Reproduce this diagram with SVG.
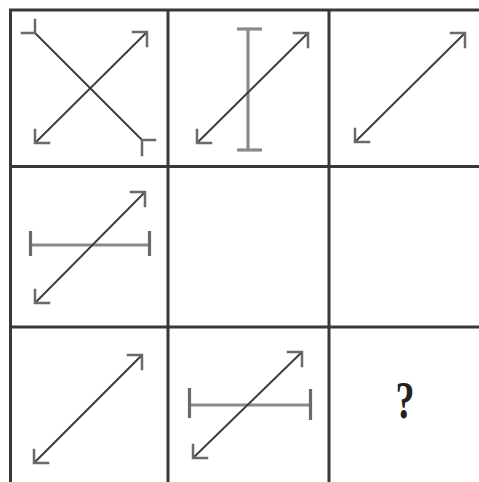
<svg xmlns="http://www.w3.org/2000/svg" width="479" height="482" viewBox="0 0 479 482">
<style>
.grid{stroke:#383838;stroke-width:3;fill:none}
.ln{stroke:#3c3c3c;stroke-width:1.9;fill:none}
.hd{stroke:#6a6a6a;stroke-width:2.5;fill:none;stroke-linecap:square}
.bar{stroke:#8a8a8a;stroke-width:3.2;fill:none}
.cap{stroke:#6a6a6a;stroke-width:3.2;fill:none}
</style>
<rect width="479" height="482" fill="#ffffff"/>
<g id="grid">
<line class="grid" x1="10.5" y1="10" x2="10.5" y2="482"/>
<line class="grid" x1="168" y1="10" x2="168" y2="482"/>
<line class="grid" x1="329" y1="10" x2="329" y2="482"/>
<line class="grid" x1="9" y1="10" x2="479" y2="10"/>
<line class="grid" x1="9" y1="166.5" x2="479" y2="166.5"/>
<line class="grid" x1="9" y1="327" x2="479" y2="327"/>
</g>
<g id="cell-1-1">
<line class="ln" x1="35" y1="33" x2="142" y2="140"/>
<polyline class="hd" points="22,33 35,33 35,20"/>
<polyline class="hd" points="155,140 142,140 142,155"/>
<line class="ln" x1="35" y1="143" x2="147" y2="32"/>
<polyline class="hd" points="35,130 35,143 49,143"/>
<polyline class="hd" points="133,32 147,32 147,46"/>
</g>
<g id="cell-1-2">
<line class="bar" x1="248" y1="29" x2="248" y2="150"/>
<line class="bar" x1="237" y1="29" x2="262" y2="29"/>
<line class="bar" x1="237" y1="150" x2="262" y2="150"/>
<line class="ln" x1="197" y1="143" x2="308" y2="33"/>
<polyline class="hd" points="197,130 197,143 211,143"/>
<polyline class="hd" points="294,33 308,33 308,47"/>
</g>
<g id="cell-1-3">
<line class="ln" x1="355" y1="142" x2="465" y2="33"/>
<polyline class="hd" points="355,129 355,142 369,142"/>
<polyline class="hd" points="451,33 465,33 465,47"/>
</g>
<g id="cell-2-1">
<line class="bar" x1="30.5" y1="245" x2="149.5" y2="245"/>
<line class="cap" x1="30.5" y1="231" x2="30.5" y2="256"/>
<line class="cap" x1="149.5" y1="231" x2="149.5" y2="256"/>
<line class="ln" x1="35" y1="303" x2="145" y2="192"/>
<polyline class="hd" points="35,290 35,303 49,303"/>
<polyline class="hd" points="131,192 145,192 145,206"/>
</g>
<g id="cell-2-2"></g>
<g id="cell-2-3"></g>
<g id="cell-3-1">
<line class="ln" x1="34" y1="463" x2="142" y2="355"/>
<polyline class="hd" points="34,450 34,463 48,463"/>
<polyline class="hd" points="128,355 142,355 142,369"/>
</g>
<g id="cell-3-2">
<line class="bar" x1="189.5" y1="405" x2="310.5" y2="405"/>
<line class="cap" x1="189.5" y1="388" x2="189.5" y2="418"/>
<line class="cap" x1="310.5" y1="389" x2="310.5" y2="420"/>
<line class="ln" x1="193" y1="458" x2="302" y2="352"/>
<polyline class="hd" points="193,445 193,458 207,458"/>
<polyline class="hd" points="288,352 302,352 302,366"/>
</g>
<g id="cell-3-3">
<text x="0" y="0" transform="translate(405,418) scale(1,1.38)" text-anchor="middle" font-family="Liberation Serif, serif" font-weight="bold" font-size="38" fill="#222">?</text>
</g>
</svg>
